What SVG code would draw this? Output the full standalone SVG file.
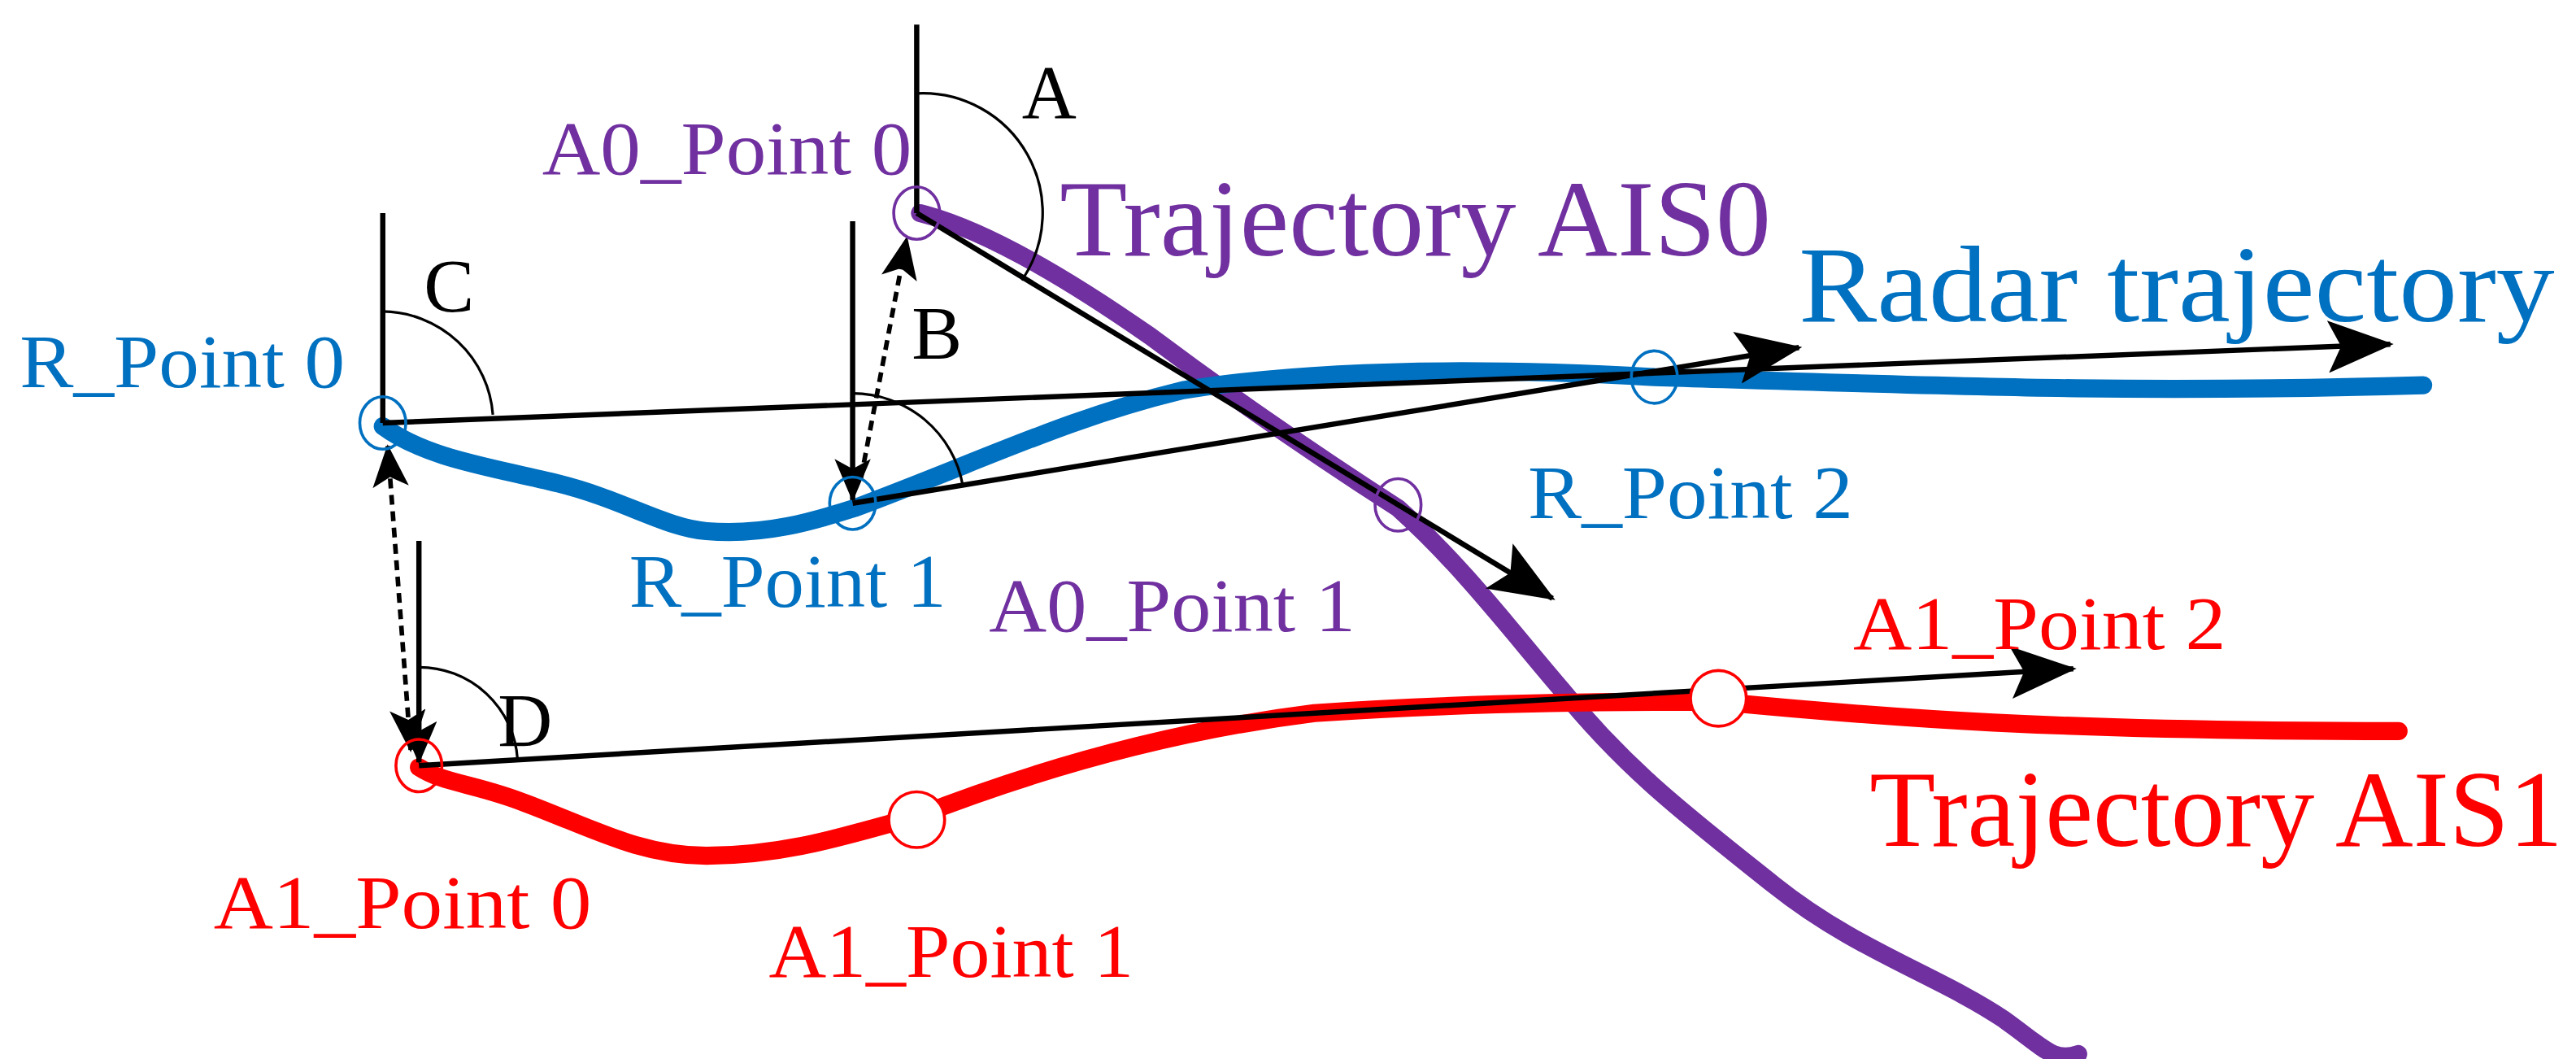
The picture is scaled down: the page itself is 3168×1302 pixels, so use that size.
<svg xmlns="http://www.w3.org/2000/svg" width="3168" height="1302" viewBox="0 0 3168 1302">
<defs>
<marker id="ah" markerUnits="userSpaceOnUse" markerWidth="40" markerHeight="32" viewBox="0 0 40 32" refX="38" refY="16" orient="auto"><path d="M0,0 L40,16 L0,32 L8,16 Z" fill="#000"/></marker>
<marker id="ahs" markerUnits="userSpaceOnUse" markerWidth="26" markerHeight="22" viewBox="0 0 26 22" refX="25" refY="11" orient="auto-start-reverse"><path d="M0,0 L26,11 L0,22 L6,11 Z" fill="#000"/></marker>
</defs>
<style>
text{font-family:"Liberation Serif","Times New Roman",serif}
.ln{stroke:#000;stroke-width:3.2;fill:none}
.arc{stroke:#000;stroke-width:1.6;fill:none}
.dot{stroke:#000;stroke-width:2.8;fill:none;stroke-dasharray:6,4}
.tr{fill:none;stroke-width:11;stroke-linecap:round;stroke-linejoin:round}
.b{fill:#0070C0}.p{fill:#7030A0}.r{fill:#FF0000}.k{fill:#000}
.s{font-size:46px}.L{font-size:66px}
</style>
<rect width="3168" height="1302" fill="#fff"/>
<g transform="scale(2.0204,2.0155)">
<g id="trajectories">
<path class="tr" stroke="#7030A0" d="M560,130 C600,140 650,170 700,205 C760,250 820,290 851,310 C890,345 920,385 950,420 C990,470 1030,500 1080,540 C1130,580 1180,595 1220,622 C1245,640 1250,648 1265,643"/>
<path class="tr" stroke="#0070C0" d="M233,260 C260,280 300,285 340,295 C380,305 405,322 430,324 C465,327 495,318 520,310 C600,280 650,255 720,238 C800,225 900,224 1007,230 C1200,236 1300,240 1475,235"/>
<path class="tr" stroke="#FF0000" d="M255,468 C270,478 290,478 320,490 C360,505 390,522 430,522 C480,522 520,508 558,498 C640,466 720,445 800,435 C900,428 1000,428 1046,428 C1150,438 1250,446 1460,446"/>
</g>
<g id="connectors">
<line class="ln" x1="558" y1="15" x2="558" y2="130"/>
<line class="ln" x1="558" y1="130" x2="945" y2="365" marker-end="url(#ah)"/>
<line class="ln" x1="233" y1="130" x2="233" y2="258"/>
<line class="ln" x1="233" y1="258" x2="1455" y2="210" marker-end="url(#ah)"/>
<line class="ln" x1="519" y1="135" x2="519" y2="305" marker-end="url(#ahs)"/>
<line class="ln" x1="519" y1="307" x2="1095" y2="212" marker-end="url(#ah)"/>
<line class="ln" x1="255" y1="330" x2="255" y2="465" marker-end="url(#ahs)"/>
<line class="ln" x1="255" y1="467" x2="1262" y2="408" marker-end="url(#ah)"/>
<line class="dot" x1="524" y1="292" x2="552" y2="145" marker-end="url(#ahs)"/>
<line class="dot" x1="236" y1="272" x2="250" y2="458" marker-start="url(#ahs)" marker-end="url(#ahs)"/>
<path class="arc" d="M558,57 A73,73 0 0 1 622,171"/>
<path class="arc" d="M233,190 A68,68 0 0 1 300,253"/>
<path class="arc" d="M519,240 A68,68 0 0 1 586,296"/>
<path class="arc" d="M255,407 A60,60 0 0 1 315,463"/>
</g>
<g id="points" stroke-width="1.8">
<ellipse cx="558" cy="130" rx="14" ry="16" fill="none" stroke="#7030A0"/>
<ellipse cx="851" cy="308" rx="14" ry="16" fill="none" stroke="#7030A0"/>
<ellipse cx="233" cy="258" rx="14" ry="16" fill="none" stroke="#0070C0"/>
<ellipse cx="519" cy="307" rx="14" ry="16" fill="none" stroke="#0070C0"/>
<ellipse cx="1007" cy="230" rx="14" ry="16" fill="none" stroke="#0070C0"/>
<ellipse cx="255" cy="467" rx="14" ry="16" fill="none" stroke="#FF0000"/>
<ellipse cx="558" cy="500" rx="17" ry="17" fill="#fff" stroke="#FF0000"/>
<ellipse cx="1046" cy="426" rx="17" ry="17" fill="#fff" stroke="#FF0000"/>
</g>
<g id="labels">
<text class="k s" x="622" y="72">A</text>
<text class="k s" x="555" y="219">B</text>
<text class="k s" x="258" y="190">C</text>
<text class="k s" x="303" y="455">D</text>
<text class="p s" x="330" y="106" textLength="225" lengthAdjust="spacingAndGlyphs">A0_Point 0</text>
<text class="p L" x="645" y="156" textLength="433" lengthAdjust="spacingAndGlyphs">Trajectory AIS0</text>
<text class="b L" x="1095" y="196" textLength="460" lengthAdjust="spacingAndGlyphs">Radar trajectory</text>
<text class="b s" x="12" y="236" textLength="198" lengthAdjust="spacingAndGlyphs">R_Point 0</text>
<text class="b s" x="383" y="370" textLength="193" lengthAdjust="spacingAndGlyphs">R_Point 1</text>
<text class="b s" x="930" y="316" textLength="198" lengthAdjust="spacingAndGlyphs">R_Point 2</text>
<text class="p s" x="602" y="385" textLength="223" lengthAdjust="spacingAndGlyphs">A0_Point 1</text>
<text class="r s" x="1128" y="396" textLength="227" lengthAdjust="spacingAndGlyphs">A1_Point 2</text>
<text class="r L" x="1138" y="516" textLength="422" lengthAdjust="spacingAndGlyphs">Trajectory AIS1</text>
<text class="r s" x="130" y="566" textLength="230" lengthAdjust="spacingAndGlyphs">A1_Point 0</text>
<text class="r s" x="468" y="596" textLength="222" lengthAdjust="spacingAndGlyphs">A1_Point 1</text>
</g>
</g>
</svg>
